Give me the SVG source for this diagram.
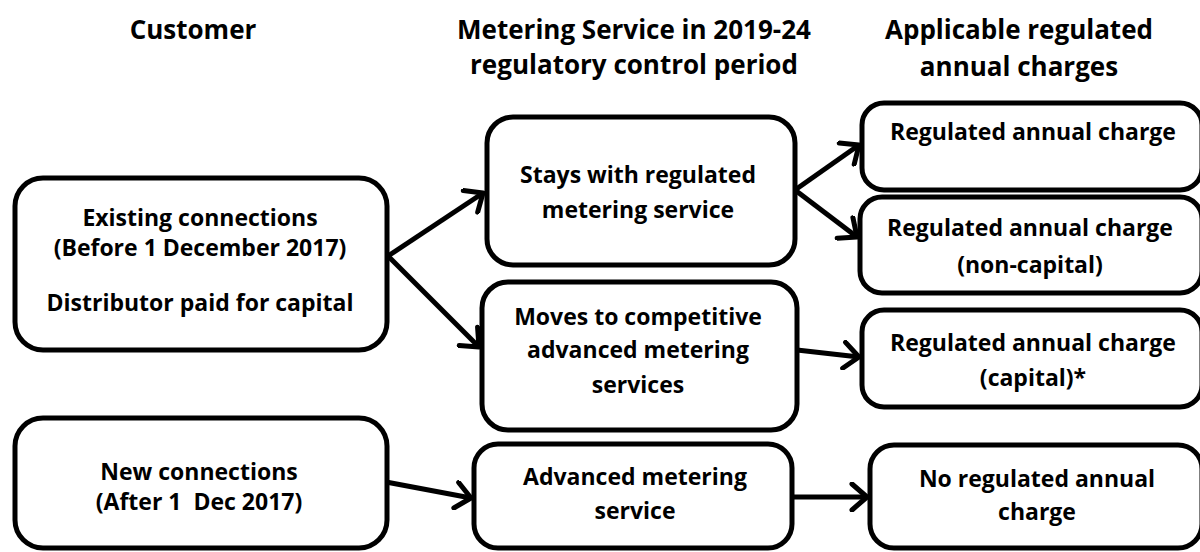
<svg xmlns="http://www.w3.org/2000/svg" width="1200" height="552" viewBox="0 0 1200 552">
<style>
.box{fill:#fff;stroke:#000;stroke-width:5}
text{font-family:"Open Sans","Liberation Sans",sans-serif;font-weight:bold;font-size:23px;fill:#000;text-anchor:middle}
.hd{font-size:26px}
.con{stroke:#000;stroke-width:5;fill:none;marker-end:url(#ah)}
</style>
<defs>
<marker id="ah" markerUnits="userSpaceOnUse" markerWidth="30" markerHeight="30" refX="21" refY="15" orient="auto" viewBox="0 0 30 30">
<path d="M6,2 L21,15 L6,28" fill="none" stroke="#000" stroke-width="5" stroke-linecap="round" stroke-linejoin="round"/>
</marker>
</defs>
<g id="headers">
<text class="hd" x="193" y="39">Customer</text>
<text class="hd" x="634" y="39">Metering Service in 2019-24</text>
<text class="hd" x="634" y="74">regulatory control period</text>
<text class="hd" x="1019" y="39">Applicable regulated</text>
<text class="hd" x="1019" y="76">annual charges</text>
</g>
<g id="existing">
<rect class="box" x="15" y="178" width="372" height="172" rx="28"/>
<text x="200" y="226">Existing connections</text>
<text x="200" y="256">(Before 1 December 2017)</text>
<text x="200" y="311">Distributor paid for capital</text>
</g>
<g id="new">
<rect class="box" x="15" y="418" width="372" height="130" rx="28"/>
<text x="199" y="480">New connections</text>
<text x="199" y="510" xml:space="preserve">(After 1  Dec 2017)</text>
</g>
<g id="stays">
<rect class="box" x="487" y="117" width="308" height="148" rx="26"/>
<text x="638" y="183">Stays with regulated</text>
<text x="638" y="218">metering service</text>
</g>
<g id="moves">
<rect class="box" x="482" y="282" width="315" height="148" rx="26"/>
<text x="638" y="325">Moves to competitive</text>
<text x="638" y="358">advanced metering</text>
<text x="638" y="393">services</text>
</g>
<g id="advanced">
<rect class="box" x="474" y="444" width="318" height="104" rx="24"/>
<text x="635" y="485">Advanced metering</text>
<text x="635" y="519">service</text>
</g>
<g id="reg1">
<rect class="box" x="862" y="103" width="340" height="87" rx="22"/>
<text x="1033" y="140">Regulated annual charge</text>
</g>
<g id="reg2">
<rect class="box" x="860" y="197" width="342" height="96" rx="22"/>
<text x="1030" y="236">Regulated annual charge</text>
<text x="1030" y="273">(non-capital)</text>
</g>
<g id="reg3">
<rect class="box" x="862" y="310" width="340" height="97" rx="22"/>
<text x="1033" y="351">Regulated annual charge</text>
<text x="1033" y="386">(capital)*</text>
</g>
<g id="noreg">
<rect class="box" x="870" y="445" width="332" height="103" rx="24"/>
<text x="1037" y="487">No regulated annual</text>
<text x="1037" y="520">charge</text>
</g>
<g id="connectors">
<path class="con" d="M388,256 L483,193"/>
<path class="con" d="M388,256 L479,347"/>
<path class="con" d="M795,190 L859,145"/>
<path class="con" d="M795,190 L857,237"/>
<path class="con" d="M797,350 L859,357"/>
<path class="con" d="M386,482 L471,498"/>
<path class="con" d="M792,497 L867,497"/>
</g>
</svg>
